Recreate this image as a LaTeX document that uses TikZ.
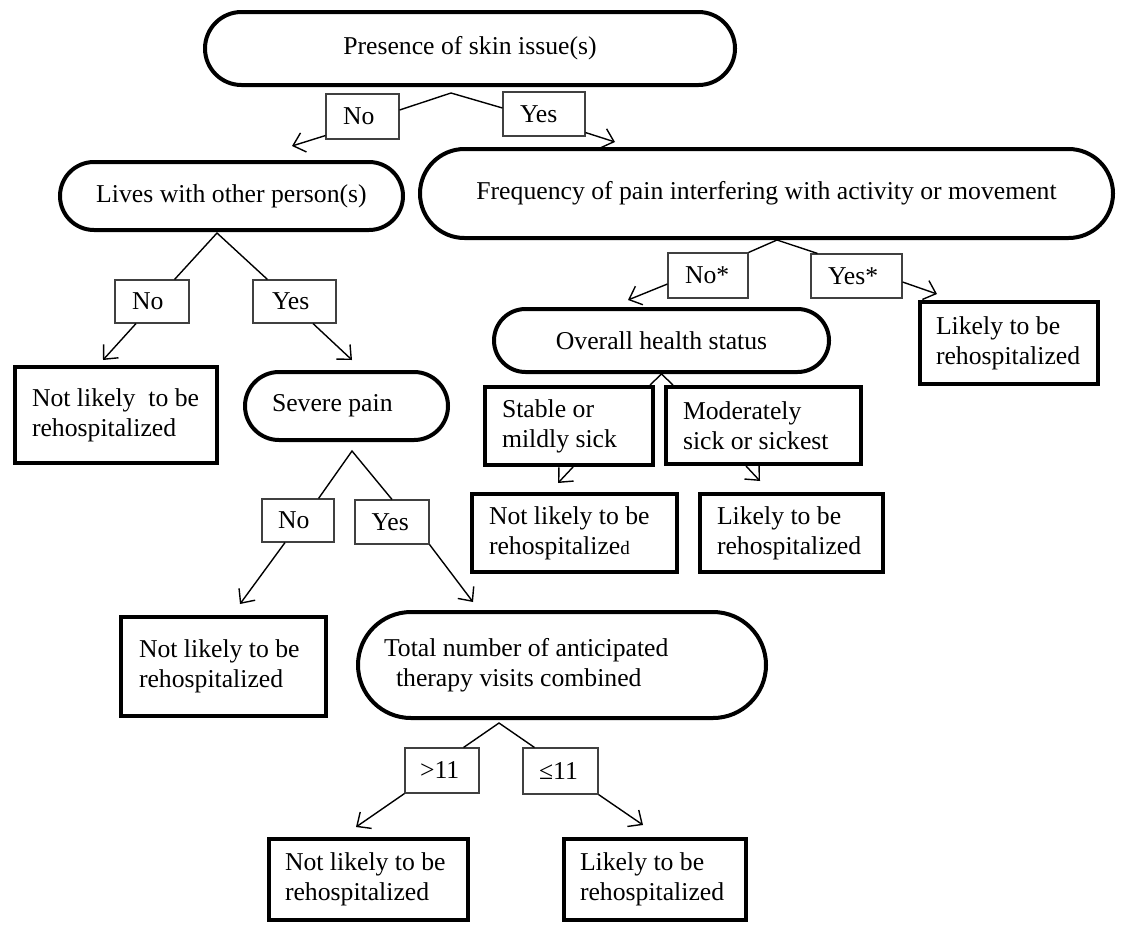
\documentclass[tikz,border=0pt]{standalone}
\usepackage{fontspec}
\setmainfont{Liberation Serif}
\usetikzlibrary{arrows.meta}
\begin{document}
\begin{tikzpicture}[x=1pt,y=-1pt,
  every node/.style={font=\fontsize{25.7}{30}\selectfont, inner sep=0pt},
  stad/.style={draw, line width=4pt, rounded corners=#1},
  tbox/.style={draw, line width=4pt},
  lbl/.style={draw=black!75, line width=1.1pt},
  conn/.style={line width=1.4pt},
  arr/.style={conn, -{Straight Barb[length=11pt,width=20pt]}}
]
\useasboundingbox (0,0) rectangle (1126,927);

% decision nodes
\node[stad=36.5pt, minimum width=530pt, minimum height=73pt] (top) at (470,48.5) {Presence of skin issue(s)};
\node[stad=34pt, minimum width=343pt, minimum height=68pt] (lives) at (231.5,196) {Lives with other person(s)};
\node[stad=44.5pt, minimum width=693pt, minimum height=89pt] (freq) at (766.5,193.5) {Frequency of pain interfering with activity or movement};
\node[stad=34pt, minimum width=203pt, minimum height=68pt] (sev) at (346.5,406) {\parbox{149pt}{Severe pain}};
\node[stad=53pt, minimum width=408pt, minimum height=106pt] (total) at (562,665) {\parbox{356pt}{Total number of anticipated\\\hspace*{12pt}therapy visits combined}};
\node[stad=31.5pt, minimum width=335pt, minimum height=63pt] (health) at (661.5,340.5) {Overall health status};

% outcome / category boxes
\node[tbox, minimum width=202pt, minimum height=96pt] (nl1) at (116,415) {\parbox{168pt}{Not likely\ \ to be\\rehospitalized}};
\node[tbox, minimum width=205pt, minimum height=99pt] (nl2) at (223.5,666.5) {\parbox{169pt}{Not likely to be\\rehospitalized}};
\node[tbox, minimum width=199pt, minimum height=81pt] (nl3) at (368.5,879) {\parbox{167pt}{Not likely to be\\rehospitalized}};
\node[tbox, minimum width=182pt, minimum height=81pt] (lk3) at (655,879) {\parbox{150pt}{Likely to be\\rehospitalized}};
\node[tbox, minimum width=178pt, minimum height=82pt] (lk1) at (1009,343) {\parbox{146pt}{Likely to be\\rehospitalized}};
\node[tbox, minimum width=168pt, minimum height=78pt] (stable) at (569,426) {\parbox{134pt}{Stable or\\mildly sick}};
\node[tbox, minimum width=195pt, minimum height=77pt] (mod) at (763.5,425.5) {\parbox{161pt}{Moderately\\sick or sickest}};
\node[tbox, minimum width=205pt, minimum height=78pt] (nl4) at (574.5,533) {\parbox{171pt}{Not likely to be\\rehospitalize{\fontsize{19}{19}\selectfont d}}};
\node[tbox, minimum width=183pt, minimum height=78pt] (lk2) at (791.5,533) {\parbox{149pt}{Likely to be\\rehospitalized}};

% branch labels
\node[lbl, minimum width=73pt, minimum height=45pt] (no1) at (362.5,116.5) {\parbox{39pt}{No}};
\node[lbl, minimum width=82pt, minimum height=44pt] (yes1) at (544,114) {\parbox{48pt}{Yes}};
\node[lbl, minimum width=74pt, minimum height=43pt] (no2) at (152,301.5) {\parbox{40pt}{No}};
\node[lbl, minimum width=83pt, minimum height=43pt] (yes2) at (294.5,301.5) {\parbox{45pt}{Yes}};
\node[lbl, minimum width=72pt, minimum height=43pt] (no3) at (298,520.5) {\parbox{40pt}{No}};
\node[lbl, minimum width=74pt, minimum height=44pt] (yes3) at (392,522) {\parbox{41pt}{Yes}};
\node[lbl, minimum width=74pt, minimum height=45pt] (gt11) at (442,770.5) {\parbox{44pt}{>11}};
\node[lbl, minimum width=75pt, minimum height=46pt] (le11) at (560.5,771) {\parbox{43pt}{≤11}};
\node[lbl, minimum width=80pt, minimum height=45pt] (nof) at (708,275.5) {\parbox{46pt}{No*}};
\node[lbl, minimum width=91pt, minimum height=44pt] (yesf) at (856.5,276) {\parbox{57pt}{Yes*}};

% connectors: presence
\coordinate (a1) at (451,93);
\coordinate (t1) at (292,146);
\coordinate (t2) at (615,142);
\draw[conn] ([yshift=6.5pt]no1.east) -- (a1) -- ([yshift=6pt]yes1.west);
\draw[arr] ([yshift=4pt]no1.south west) -- (t1);
\draw[arr] ([yshift=4pt]yes1.south east) -- (t2);

% lives
\coordinate (a2) at (217,233);
\coordinate (t3) at (103,360);
\coordinate (t4) at (352,360);
\draw[conn] ([xshift=-15pt]no2.north east) -- (a2) -- ([xshift=15pt]yes2.north west);
\draw[arr] ([xshift=-16pt]no2.south) -- (t3);
\draw[arr] ([xshift=18.5pt]yes2.south) -- (t4);

% severe pain
\coordinate (a3) at (352,451);
\coordinate (t5) at (240,604);
\coordinate (t6) at (473,602);
\draw[conn] ([xshift=-16pt]no3.north east) -- (a3) -- (yes3.north);
\draw[arr] ([xshift=-13pt]no3.south) -- (t5);
\draw[arr] (yes3.south east) -- (t6);

% total visits
\coordinate (a4) at (499,723);
\coordinate (t7) at (356,827);
\coordinate (t8) at (643,825);
\draw[conn] ([xshift=-16pt]gt11.north east) -- (a4) -- ([xshift=12pt]le11.north west);
\draw[arr] (gt11.south west) -- (t7);
\draw[arr] (le11.south east) -- (t8);

% frequency of pain
\coordinate (a5) at (777,240);
\coordinate (t9) at (628,300);
\coordinate (t10) at (937,294);
\draw[conn] (nof.north east) -- (a5) -- ([xshift=7pt]yesf.north west);
\draw[arr] ([yshift=-8.5pt]nof.west) -- (t9);
\draw[arr] ([yshift=-6pt]yesf.east) -- (t10);

% overall health
\coordinate (t11) at (558,483);
\coordinate (t12) at (760,481);
\draw[conn] ([xshift=-5pt]stable.north east) -- (health.south) -- ([xshift=9pt]mod.north west);
\draw[arr] ([xshift=4pt]stable.south) -- (t11);
\draw[arr] ([xshift=-17.5pt]mod.south) -- (t12);
\end{tikzpicture}
\end{document}
